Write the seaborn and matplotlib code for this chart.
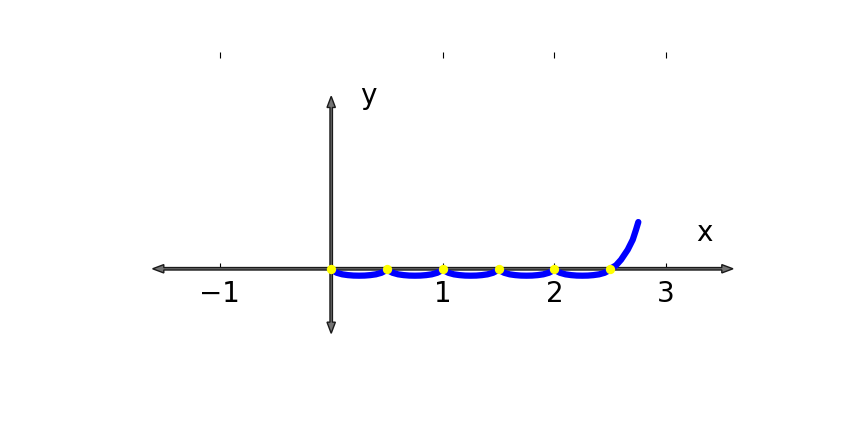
import numpy as np
import pandas as pd
import matplotlib
matplotlib.use("Agg")
import matplotlib.pyplot as plt
import seaborn as sns

# --- data ---
# one shallow arc between consecutive contact points (offsets from arc start)
arc_dx = [0.0, 0.02, 0.05, 0.10, 0.15, 0.20, 0.25, 0.30, 0.35, 0.40, 0.45, 0.48, 0.50]
arc_dy = [0.0, -0.020, -0.036, -0.050, -0.057, -0.061, -0.062, -0.061, -0.057, -0.050, -0.036, -0.020, 0.0]
arc_starts = [0.0, 0.5, 1.0, 1.5, 2.0]
# final rising arc
rise_x = [2.50, 2.552, 2.597, 2.657, 2.702, 2.731, 2.752]
rise_y = [0.0, 0.031, 0.081, 0.171, 0.261, 0.350, 0.420]
# contact points
pt_x = [0.0, 0.5, 1.0, 1.5, 2.0, 2.5]
pt_y = [0.0, 0.0, 0.0, 0.0, 0.0, 0.0]
xtick_vals = [-1, 1, 2, 3]

cx, cy = [], []
for s in arc_starts:
    cx += [s + d for d in arc_dx]
    cy += list(arc_dy)
cx += rise_x
cy += rise_y
curve = pd.DataFrame({"x": cx, "y": cy})
pts = pd.DataFrame({"x": pt_x, "y": pt_y})

sns.set_style("white")
plt.rcParams["font.family"] = ["DejaVu Sans"]
plt.rcParams["text.color"] = "black"
plt.rcParams["xtick.color"] = "black"

fig = plt.figure(figsize=(8.64, 4.32), dpi=100)
ax = fig.add_subplot(111)

# axes arrows
arrow_kw = dict(width=0.022, head_width=0.075, head_length=0.1, fc="0.45", ec="0.1",
                lw=1.0, length_includes_head=True, zorder=2)
ax.arrow(0, 0, 3.6, 0, **arrow_kw)
ax.arrow(0, 0, -1.6, 0, **arrow_kw)
ax.arrow(0, 0, 0, 1.55, **arrow_kw)
ax.arrow(0, 0, 0, -0.58, **arrow_kw)

sns.lineplot(data=curve, x="x", y="y", sort=False, estimator=None, color="blue",
             lw=4.5, ax=ax, zorder=3)
sns.scatterplot(data=pts, x="x", y="y", color="yellow", s=45, linewidth=0, ax=ax, zorder=4)

ax.set_xlim(-2, 4)
ax.set_ylim(-1.04, 1.95)

for side in ["left", "right", "top"]:
    ax.spines[side].set_visible(False)
ax.spines["bottom"].set_position("zero")
ax.spines["bottom"].set_visible(False)

ax.set_xticks(xtick_vals)
ax.set_xticklabels(["\u22121", "1", "2", "3"])
ax.set_yticks([])
ax.tick_params(axis="x", which="both", bottom=True, top=True, direction="in",
               length=4, width=0.8, color="black", labelcolor="black", labelsize=20, pad=8)
ax.set_xlabel("")
ax.set_ylabel("")

ax.text(3.34, 0.32, "x", fontsize=20, ha="center", va="center", color="black")
ax.text(0.33, 1.55, "y", fontsize=20, ha="center", va="center", color="black")

fig.subplots_adjust(left=0.125, right=0.9, bottom=0.11, top=0.88)
fig.savefig("out.png", dpi=100)
